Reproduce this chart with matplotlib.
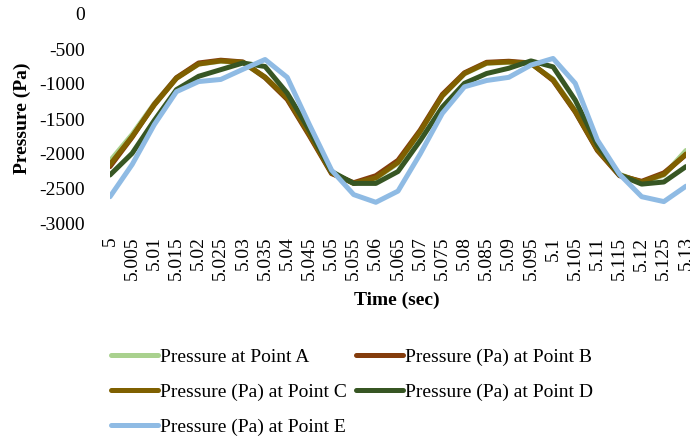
import matplotlib
matplotlib.use("Agg")
import matplotlib.pyplot as plt

plt.rcParams["font.family"] = ["Liberation Serif", "DejaVu Serif"]
plt.rcParams["axes.unicode_minus"] = False

time_labels = [
    "5", "5.005", "5.01", "5.015", "5.02", "5.025", "5.03", "5.035", "5.04",
    "5.045", "5.05", "5.055", "5.06", "5.065", "5.07", "5.075", "5.08",
    "5.085", "5.09", "5.095", "5.1", "5.105", "5.11", "5.115", "5.12",
    "5.125", "5.13",
]

point_a = [-2100, -1720, -1280, -910, -715, -675, -695, -910, -1210, -1720,
           -2260, -2420, -2350, -2130, -1680, -1170, -855, -705, -690, -710,
           -930, -1380, -1930, -2290, -2410, -2300, -1950]
point_b = [-2180, -1760, -1290, -910, -700, -660, -685, -910, -1220, -1740,
           -2280, -2410, -2310, -2090, -1660, -1150, -840, -690, -675, -700,
           -950, -1400, -1950, -2310, -2390, -2270, -2010]
point_c = [-2150, -1750, -1300, -920, -715, -670, -690, -900, -1200, -1720,
           -2270, -2420, -2340, -2120, -1680, -1170, -850, -700, -685, -705,
           -940, -1390, -1940, -2300, -2400, -2290, -2000]
point_d = [-2300, -1990, -1520, -1080, -890, -795, -700, -750, -1130, -1660,
           -2250, -2420, -2420, -2250, -1810, -1330, -990, -850, -775, -670,
           -755, -1230, -1870, -2300, -2430, -2400, -2180]
point_e = [-2610, -2150, -1580, -1110, -965, -935, -790, -650, -905, -1580,
           -2230, -2580, -2690, -2530, -2000, -1420, -1040, -950, -905, -730,
           -635, -990, -1800, -2290, -2610, -2680, -2460]

series = [
    ("Pressure at Point A", point_a, "#A9D18E"),
    ("Pressure (Pa) at Point B", point_b, "#843C0C"),
    ("Pressure (Pa) at Point C", point_c, "#7F6000"),
    ("Pressure (Pa) at Point D", point_d, "#375623"),
    ("Pressure (Pa) at Point E", point_e, "#8FBBE4"),
]

fig = plt.figure(figsize=(6.9, 4.38), dpi=100)
ax = fig.add_axes([110 / 690, 214 / 438, 576 / 690, 210 / 438])

x = list(range(len(time_labels)))
lines = []
for name, values, color in series:
    (ln,) = ax.plot(x, values, color=color, lw=3.6, label=name,
                    solid_joinstyle="round", solid_capstyle="round")
    lines.append(ln)

ax.set_xlim(0, len(time_labels) - 1)
ax.set_ylim(-3000, 0)
ax.set_yticks(range(-3000, 1, 500))
ax.set_xticks(x)
ax.set_xticklabels(time_labels, rotation=90)
for side in ax.spines.values():
    side.set_visible(False)
ax.tick_params(axis="both", length=0, labelsize=14)
ax.tick_params(axis="y", pad=18)
ax.tick_params(axis="x", pad=9)

fig.text(22 / 690, 1 - 118 / 438, "Pressure (Pa)", rotation=90, ha="center",
         va="center", fontsize=14, fontweight="bold")
fig.text(397 / 690, 1 - 300 / 438, "Time (sec)", ha="center", va="center",
         fontsize=14, fontweight="bold")

# row-wise legend order: A B / C D / E
order = [0, 2, 4, 1, 3]
fig.legend([lines[i] for i in order], [series[i][0] for i in order],
           ncol=2, loc="upper left", bbox_to_anchor=(111 / 690, 1 - 348 / 438),
           frameon=False, fontsize=14, handlelength=2.4, handletextpad=0.1,
           columnspacing=0.5, labelspacing=0.9, borderpad=0, borderaxespad=0)

fig.savefig("out.png", dpi=100)
